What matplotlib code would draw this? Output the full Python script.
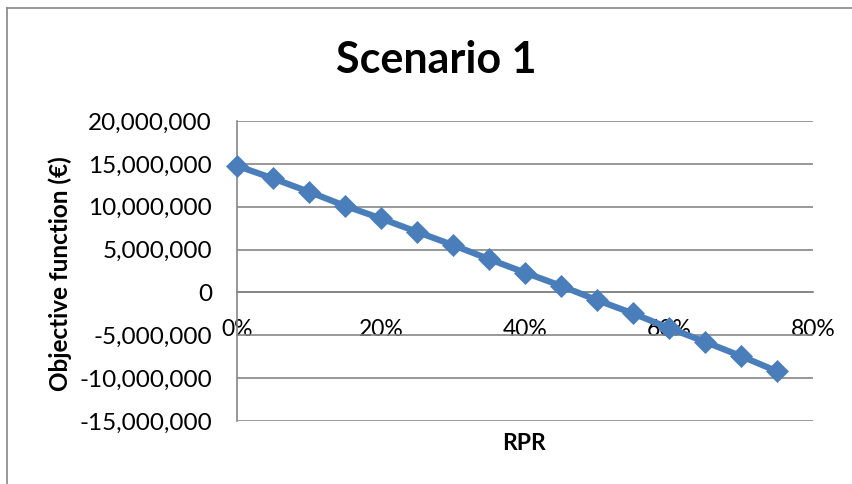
import matplotlib
matplotlib.use("Agg")
import matplotlib.pyplot as plt
from matplotlib.ticker import FuncFormatter, MultipleLocator

# Objective function vs. RPR share
rpr = [0.00, 0.05, 0.10, 0.15, 0.20, 0.25, 0.30, 0.35,
       0.40, 0.45, 0.50, 0.55, 0.60, 0.65, 0.70, 0.75]
objective = [14.77e6, 13.30e6, 11.74e6, 10.10e6, 8.63e6, 7.07e6, 5.52e6, 3.89e6,
             2.31e6, 0.77e6, -0.90e6, -2.45e6, -4.15e6, -5.76e6, -7.43e6, -9.20e6]
x_ticks = [0.0, 0.2, 0.4, 0.6, 0.8]

plt.rcParams['font.family'] = ['Lato', 'DejaVu Sans']

W, H = 853, 484
fig = plt.figure(figsize=(W / 100, H / 100), dpi=100)
fig.patch.set_facecolor('white')

# chart-area frame (left and top edges)
fig.add_artist(plt.Line2D([7 / W, 7 / W], [0, 1 - 8 / H], transform=fig.transFigure,
                          color='#868686', lw=1.2))
fig.add_artist(plt.Line2D([7 / W, 1], [1 - 8 / H, 1 - 8 / H], transform=fig.transFigure,
                          color='#868686', lw=1.2))

ax = fig.add_axes([237 / W, 1 - 421 / H, (813 - 237) / W, (421 - 121) / H])

ax.plot(rpr, objective, color='#4A7EBB', lw=4.5, marker='D', markersize=11.5,
        markerfacecolor='#4A7EBB', markeredgecolor='#4A7EBB', markeredgewidth=0.5,
        zorder=3, clip_on=False)

ax.set_xlim(0, 0.8)
ax.set_ylim(-15e6, 20e6)
ax.yaxis.set_major_locator(MultipleLocator(5e6))
ax.set_xticks(x_ticks)
ax.xaxis.set_major_formatter(FuncFormatter(lambda v, p: f"{v*100:.0f}%"))
ax.yaxis.set_major_formatter(FuncFormatter(lambda v, p: f"{v:,.0f}"))

ax.grid(axis='y', color='#868686', lw=1.2)
ax.set_axisbelow(True)
for s in ['top', 'right']:
    ax.spines[s].set_visible(False)
ax.spines['left'].set_color('#868686')
ax.spines['left'].set_linewidth(1.2)
ax.spines['bottom'].set_position(('data', 0))
ax.spines['bottom'].set_color('#868686')
ax.spines['bottom'].set_linewidth(1.2)

ax.tick_params(axis='x', length=0, pad=19, labelsize=16.5)
ax.tick_params(axis='y', length=0, pad=18, labelsize=17.5)

fig.text(436 / W, 1 - 60 / H, 'Scenario 1', ha='center', va='center',
         fontsize=31, fontweight='bold')
fig.text(60 / W, 1 - 274 / H, 'Objective function (€)', ha='center', va='center',
         rotation=90, fontsize=17.5, fontweight='bold')
fig.text(524 / W, 1 - 443 / H, 'RPR', ha='center', va='center',
         fontsize=16.5, fontweight='bold')

fig.savefig('out.png', dpi=100)
